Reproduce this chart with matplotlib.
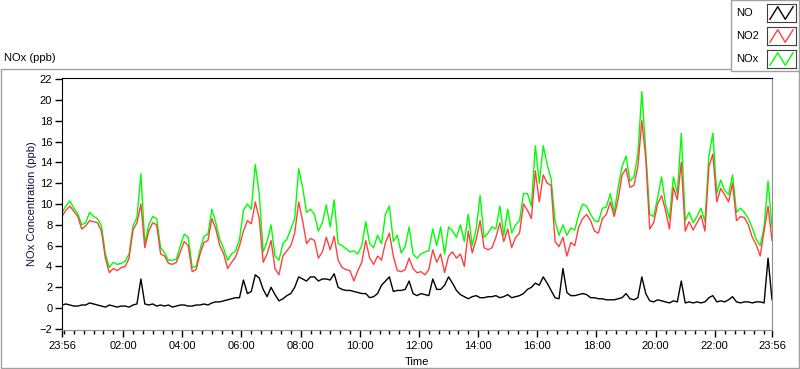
import numpy as np
import matplotlib
matplotlib.use('Agg')
import matplotlib.pyplot as plt
import matplotlib.dates as mdates
from matplotlib.patches import Rectangle

# readings every 8 minutes from 23:56 to 23:56 next day (ppb)
STEP_MIN = 8
START = np.datetime64('2023-01-01T23:56')

nox = [9.2, 9.8, 10.3, 9.6, 9.1, 8.0, 8.2, 9.2, 8.8, 8.6,
       7.9, 5.2, 3.9, 4.4, 4.2, 4.3, 4.5, 5.2, 7.9, 8.7,
       12.9, 6.2, 8.0, 8.8, 8.6, 5.8, 5.3, 4.6, 4.6, 4.7,
       6.0, 7.1, 6.8, 3.9, 4.0, 5.6, 6.9, 7.1, 9.5, 8.2,
       6.6, 5.7, 4.6, 5.2, 5.5, 6.6, 9.4, 10.0, 9.5, 13.8,
       11.0, 5.4, 6.4, 8.0, 5.0, 4.6, 6.2, 6.6, 7.6, 8.6,
       13.4, 11.6, 9.2, 9.5, 9.0, 7.4, 8.2, 9.9, 7.8, 10.4,
       6.2, 6.0, 5.7, 5.4, 5.5, 5.2, 6.0, 8.3, 6.2, 5.8,
       7.0, 6.2, 9.0, 9.8, 6.4, 7.0, 5.3, 5.9, 7.8, 5.2,
       4.8, 5.2, 5.4, 5.5, 7.6, 6.0, 7.8, 5.2, 7.8, 7.4,
       6.8, 8.0, 6.4, 9.0, 6.0, 7.6, 10.8, 6.8, 7.2, 7.8,
       7.6, 9.8, 7.0, 9.5, 7.2, 8.0, 8.4, 11.0, 11.0, 9.8,
       15.6, 12.0, 15.6, 13.8, 12.4, 8.4, 7.0, 8.0, 7.0, 7.7,
       7.5, 9.0, 10.0, 9.8, 9.0, 8.4, 8.3, 9.6, 9.7, 11.0,
       9.2, 11.6, 13.6, 14.6, 12.2, 12.6, 14.8, 20.8, 15.0, 9.0,
       8.8, 10.6, 12.6, 10.0, 8.6, 12.6, 11.0, 16.8, 8.4, 9.2,
       8.2, 8.8, 9.6, 8.3, 14.6, 16.8, 11.0, 12.3, 11.3, 10.9,
       12.8, 9.2, 9.6, 9.2, 8.6, 7.7, 6.6, 6.0, 7.8, 12.2, 7.8]

no2 = [8.8, 9.4, 9.8, 9.3, 8.8, 7.6, 7.9, 8.4, 8.3, 8.2,
       7.4, 4.8, 3.4, 3.8, 3.6, 3.9, 4.0, 4.8, 7.5, 8.2,
       10.0, 5.8, 7.4, 8.2, 8.0, 5.2, 5.0, 4.3, 4.2, 4.4,
       5.4, 6.4, 6.0, 3.5, 3.7, 5.2, 6.3, 6.5, 8.6, 7.6,
       6.0, 5.2, 3.8, 4.4, 4.9, 6.0, 7.4, 8.4, 8.1, 10.2,
       8.6, 4.4, 5.2, 6.5, 3.8, 3.2, 5.0, 5.5, 6.0, 7.2,
       10.2, 8.4, 6.2, 6.7, 6.5, 4.8, 5.4, 6.8, 5.6, 6.9,
       4.6, 3.9, 3.7, 3.6, 2.6, 3.6, 4.4, 6.5, 4.8, 4.2,
       5.0, 4.6, 6.3, 7.2, 5.0, 3.6, 3.5, 3.7, 4.8, 3.8,
       3.4, 3.5, 3.2, 3.7, 5.6, 4.4, 5.2, 3.4, 5.0, 5.4,
       4.8, 5.2, 4.0, 7.4, 5.3, 6.6, 8.4, 5.8, 5.6, 5.8,
       6.8, 8.2, 6.4, 7.6, 5.8, 6.8, 7.2, 10.0, 9.4, 8.6,
       13.2, 10.2, 12.8, 12.0, 11.8, 6.4, 5.9, 6.8, 5.0, 6.3,
       6.0, 7.8, 8.6, 9.0, 8.4, 7.4, 7.2, 8.6, 9.0, 10.2,
       8.8, 10.5, 12.8, 13.4, 11.6, 11.8, 13.6, 18.0, 14.4, 7.6,
       8.2, 10.0, 10.8, 9.4, 7.6, 11.6, 10.4, 14.0, 7.4, 8.3,
       7.5, 8.2, 8.9, 7.4, 13.6, 14.8, 10.2, 11.5, 10.9, 10.2,
       12.0, 8.4, 8.8, 8.7, 8.0, 6.8, 6.1, 5.0, 7.4, 9.8, 6.5]

no = [0.3, 0.4, 0.3, 0.2, 0.2, 0.3, 0.3, 0.5, 0.4, 0.3,
      0.2, 0.1, 0.3, 0.2, 0.1, 0.2, 0.2, 0.1, 0.3, 0.4,
      2.8, 0.4, 0.3, 0.4, 0.2, 0.3, 0.2, 0.3, 0.1, 0.2,
      0.3, 0.3, 0.2, 0.2, 0.3, 0.3, 0.4, 0.3, 0.5, 0.6,
      0.6, 0.7, 0.8, 0.9, 1.0, 1.0, 2.7, 1.4, 1.6, 3.2,
      2.9, 1.8, 1.1, 2.0, 1.3, 0.7, 0.9, 1.2, 1.4, 2.0,
      3.0, 2.8, 2.6, 3.0, 3.0, 2.6, 2.8, 2.8, 2.7, 3.3,
      2.0, 1.8, 1.7, 1.7, 1.6, 1.5, 1.4, 1.4, 1.0, 1.1,
      1.4, 2.2, 2.6, 3.0, 1.6, 1.7, 1.7, 1.8, 2.6, 1.4,
      1.2, 1.4, 1.3, 1.2, 2.8, 1.8, 1.8, 2.2, 3.0, 2.4,
      1.7, 1.3, 1.1, 0.9, 1.1, 1.2, 1.0, 1.0, 1.1, 1.1,
      1.2, 1.0, 1.1, 1.3, 1.0, 1.1, 1.2, 1.4, 1.8, 2.0,
      2.4, 2.2, 3.0, 2.4, 1.7, 1.0, 0.9, 3.8, 1.5, 1.2,
      1.2, 1.3, 1.4, 1.3, 1.0, 1.0, 0.9, 0.9, 0.8, 0.8,
      0.8, 0.9, 1.0, 1.4, 0.9, 0.8, 1.0, 3.0, 1.4, 0.7,
      0.6, 0.8, 0.7, 0.6, 0.5, 0.7, 0.6, 2.6, 0.5, 0.6,
      0.5, 0.6, 0.5, 0.6, 1.0, 1.2, 0.6, 0.7, 0.6, 0.8,
      1.1, 0.6, 0.5, 0.6, 0.6, 0.5, 0.6, 0.6, 0.5, 4.8, 0.8]

series = [('NO', no, 'black'), ('NO2', no2, '#ff4040'), ('NOx', nox, '#00ff00')]

plt.rcParams['font.family'] = ['Liberation Sans', 'DejaVu Sans']
plt.rcParams['font.size'] = 8

W, H = 800, 369


def fx(px):
    return px / W


def fy(py):
    return 1 - py / H


times = START + np.arange(len(nox)) * np.timedelta64(STEP_MIN, 'm')

fig = plt.figure(figsize=(W / 100, H / 100), dpi=100)

# grey panel frame
fig.patches.append(Rectangle((fx(1), fy(368)), fx(798), (368 - 69) / H,
                             transform=fig.transFigure, fill=False,
                             ec='#a0a0a0', lw=1))

ax = fig.add_axes([fx(62), fy(330), fx(710), (330 - 78) / H])
for name, vals, col in series[::-1]:
    ax.plot(times, vals, color=col, lw=1)

ax.set_xlim(times[0], times[-1])
ax.set_ylim(-2.1, 22.1)
ax.set_yticks(np.arange(-2, 23, 2))

day2 = np.datetime64('2023-01-02T00:00')
major = [times[0]] + [day2 + np.timedelta64(h, 'h') for h in range(2, 23, 2)] + [times[-1]]
ax.set_xticks(major)
ax.xaxis.set_major_formatter(mdates.DateFormatter('%H:%M'))
ax.xaxis.set_minor_locator(mdates.MinuteLocator(byminute=[0, 20, 40]))
ax.tick_params(which='major', length=5, width=1, labelsize=8, pad=2)
ax.tick_params(which='minor', length=3, width=1)
ax.tick_params(axis='x', which='major', pad=3)

ax.spines['top'].set_color('black')
ax.spines['left'].set_color('black')
ax.spines['right'].set_color('#909090')
ax.spines['bottom'].set_color('#909090')

fig.text(fx(32), fy(204), 'NOx Concentration (ppb)', rotation=90,
         ha='center', va='center', color='#101040')
fig.text(fx(417), fy(362), 'Time', ha='center', va='center')
fig.text(fx(4), fy(58), 'NOx (ppb)', ha='left', va='center')

# legend box top right
fig.patches.append(Rectangle((fx(731), fy(71)), fx(68), 71 / H,
                             transform=fig.transFigure, fc='white',
                             ec='#a0a0a0', lw=1, zorder=2))
for i, (name, vals, col) in enumerate(series):
    top = 4 + 23 * i
    fig.text(fx(736), fy(top + 9), name, ha='left', va='center', zorder=3)
    iax = fig.add_axes([fx(767), fy(top + 18), fx(29), 18 / H])
    iax.set_zorder(5)
    iax.plot([0.1, 0.37, 0.63, 0.9], [0.15, 0.85, 0.15, 0.85], color=col, lw=1)
    iax.set_xlim(0, 1)
    iax.set_ylim(0, 1)
    iax.set_xticks([])
    iax.set_yticks([])
    for s in iax.spines.values():
        s.set_color('#404040')

fig.savefig('out.png', dpi=100)
